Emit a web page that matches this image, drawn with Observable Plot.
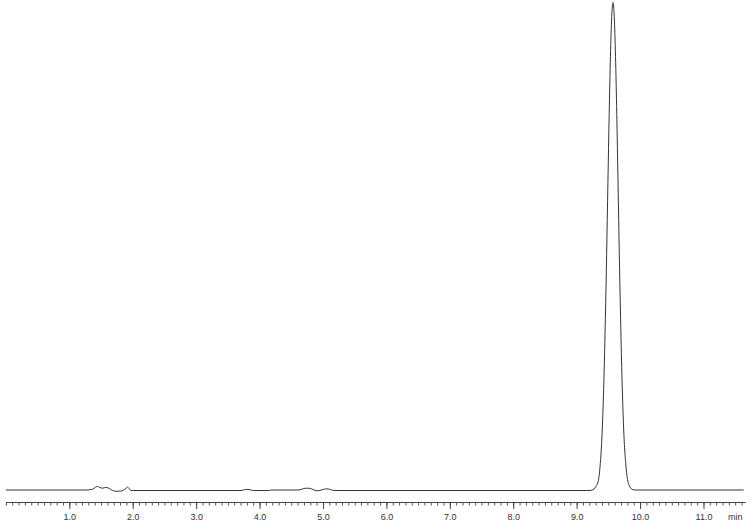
<!DOCTYPE html>
<html><head><meta charset="utf-8">
<script src="https://cdn.jsdelivr.net/npm/d3@7"></script>
<script src="https://cdn.jsdelivr.net/npm/@observablehq/plot@0.6"></script>
<style>html,body{margin:0;padding:0;background:#fff} svg{display:block}</style>
</head><body><div id="chart"></div>
<script>
// Retention time (min) and detector signal (arbitrary units)
const retentionTimes = [
  0.00, 1.25, 1.30, 1.357, 1.405, 1.437, 1.47, 1.516, 1.564, 1.61, 1.673, 1.736, 1.815, 1.862, 1.89, 1.91, 1.935, 1.957, 2.00,
  3.70, 3.75, 3.80, 3.85, 3.90,
  4.15, 4.17, 4.60, 4.66, 4.72, 4.78, 4.84, 4.90, 4.96, 5.03, 5.08, 5.14, 5.20,
  9.15, 9.205, 9.235, 9.265, 9.285, 9.305, 9.325, 9.345, 9.365, 9.385, 9.405, 9.425, 9.445, 9.465, 9.485, 9.505,
  9.525, 9.545, 9.565, 9.585, 9.605, 9.625, 9.645, 9.665, 9.685, 9.705, 9.725, 9.745, 9.765, 9.785, 9.805, 9.825,
  9.845, 9.865, 9.895, 9.93, 11.62
];
const signal = [
  0.5, 0.5, 0.7, 1.2, 3.3, 4.0, 3.2, 2.3, 3.0, 2.5, 0, -0.8, -0.5, 1.0, 2.4, 3.4, 2.0, 0.2, 0,
  0, 0.7, 1.1, 0.6, 0,
  0, 0.5, 0.5, 1.3, 2.3, 2.2, 0.8, -0.3, 0.3, 1.6, 1.5, 0.3, 0,
  0, 0, 0.5, 1.5, 3, 5, 7.5, 14, 27, 46, 76, 118, 172, 236, 307, 376,
  434, 474, 488, 474, 434, 376, 307, 236, 172, 118, 76, 46, 28, 15, 8, 4.5,
  2.5, 1.2, 0.6, 0.5, 0.5
];
const majorTicks = [1, 2, 3, 4, 5, 6, 7, 8, 9, 10, 11];
const majorLabels = ["1.0", "2.0", "3.0", "4.0", "5.0", "6.0", "7.0", "8.0", "9.0", "10.0", "11.0"];
const minorTicks = d3.range(0, 117).map(i => i / 10);
const unitLabel = ["min"];

const data = retentionTimes.map((t, i) => ({t, v: signal[i]}));

const chart = Plot.plot({
  width: 750, height: 522,
  marginLeft: 5.9, marginRight: 5.3, marginTop: 2, marginBottom: 20,
  x: {domain: [0, 11.65], label: null},
  y: {domain: [-12, 488], axis: null, label: null},
  style: {fontFamily: "'Liberation Sans', Arial, sans-serif", fontSize: "9px", color: "#333", background: "#fff"},
  marks: [
    Plot.frame({anchor: "bottom", stroke: "#444"}),
    Plot.axisX(minorTicks, {tickSize: 3.5, tickFormat: () => "", stroke: "#555", label: null}),
    Plot.axisX(majorTicks, {tickSize: 7, tickPadding: 4, tickFormat: d => majorLabels[majorTicks.indexOf(d)], stroke: "#444", fill: "#333", label: null}),
    Plot.line(data, {x: "t", y: "v", stroke: "#333", strokeWidth: 1, curve: "monotone-x"}),
    Plot.text(unitLabel, {text: d => d, frameAnchor: "bottom-right", dx: -2.7, dy: 14.6, lineAnchor: "middle", textAnchor: "end", fill: "#333"})
  ]
});
document.getElementById("chart").appendChild(chart);
</script>
</body></html>
